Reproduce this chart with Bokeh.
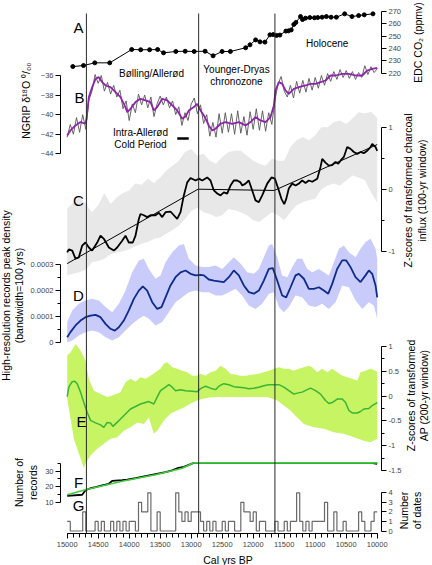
import math
from bokeh.plotting import figure
from bokeh.models import (Range1d, LinearAxis, FixedTicker, NumeralTickFormatter,
                          Label, GridBox)
from bokeh.core.properties import value
from bokeh.embed import file_html
from bokeh.resources import INLINE

# ------------------------------------------------------------------ data
boundary_age = [14690, 12880, 11650]

# A  EDC CO2
co2_age = [14909, 14737, 14555, 14314, 13960, 13815, 13671, 13542, 13446, 13248,
           13097, 12952, 12776, 12647, 12502, 12368, 12122, 12052, 11961, 11891,
           11811, 11730, 11677, 11623, 11570, 11473, 11430, 11387, 11345, 11312,
           11237, 11205, 11157, 11087, 11012, 10959, 10889, 10820, 10744, 10659,
           10525, 10407, 10300, 10209, 10069]
co2_ppmv = [225.4, 226.2, 228.4, 228.4, 239.2, 239.0, 239.0, 239.2, 236.5, 237.6,
            237.8, 237.6, 237.8, 234.1, 237.6, 237.6, 240.6, 243.0, 247.0, 245.4,
            245.2, 251.1, 251.3, 250.6, 250.9, 254.1, 254.3, 255.1, 259.5, 261.1,
            265.9, 263.5, 264.6, 265.1, 264.9, 265.1, 265.4, 265.9, 265.4, 265.4,
            268.1, 265.9, 266.7, 267.3, 268.1]

# B  NGRIP d18O (raw, 50-yr steps) and smoothed curve
ngrip_raw_age = list(range(15000, 9999, -50))
ngrip_raw = [-42.3, -41.0, -42.0, -40.3, -41.8, -40.0, -41.5, -38.5, -37.6, -35.9,
             -36.8, -36.0, -37.6, -36.7, -37.9, -37.0, -38.2, -37.5, -39.4, -38.6,
             -40.6, -38.9, -39.8, -37.9, -39.0, -38.0, -39.3, -38.2, -40.2, -38.9,
             -38.1, -39.0, -38.2, -39.3, -38.6, -40.0, -39.2, -41.1, -39.8, -40.6,
             -38.9, -38.3, -39.9, -39.0, -40.9, -40.0, -42.2, -40.8, -42.3, -39.9,
             -41.9, -39.8, -41.8, -39.9, -42.0, -39.6, -41.9, -40.2, -42.1, -39.7,
             -41.5, -39.4, -41.6, -39.6, -41.7, -39.8, -41.0, -38.5, -36.9, -36.1,
             -37.6, -38.2, -37.0, -38.3, -36.6, -37.8, -36.5, -37.7, -36.3, -37.5,
             -36.2, -37.3, -36.0, -37.0, -35.8, -36.6, -35.6, -36.4, -35.4, -36.2,
             -35.5, -36.3, -35.6, -36.4, -35.7, -36.2, -35.0, -35.9, -35.1, -35.7,
             -35.3]
ngrip_smooth_age = [15000, 14947, 14866, 14785, 14705, 14688, 14651, 14597, 14543, 14490,
                    14436, 14382, 14302, 14221, 14140, 14060, 14032, 13979, 13898, 13818,
                    13737, 13656, 13603, 13548, 13468, 13387, 13306, 13226, 13145, 13091,
                    13038, 12958, 12903, 12850, 12796, 12716, 12661, 12608, 12527, 12447,
                    12339, 12232, 12124, 12043, 11963, 11882, 11801, 11721, 11667, 11640,
                    11587, 11532, 11479, 11426, 11345, 11264, 11156, 11076, 10995, 10914,
                    10834, 10753, 10672, 10564, 10458, 10350, 10242, 10161, 10080, 10000]
ngrip_smooth = [-42.12, -41.61, -41.10, -40.76, -40.93, -40.42, -38.21, -37.19, -36.34, -36.17,
                -36.68, -37.02, -37.19, -37.70, -38.21, -39.23, -39.74, -39.40, -38.72, -38.38,
                -38.55, -38.72, -39.57, -39.23, -38.38, -38.55, -39.06, -39.57, -40.42, -40.18,
                -39.57, -39.23, -38.89, -39.57, -40.08, -41.10, -41.61, -41.44, -40.93, -40.76,
                -40.93, -40.76, -41.10, -40.76, -40.25, -40.59, -40.76, -40.25, -39.06, -37.53,
                -36.68, -36.85, -37.53, -37.87, -37.36, -37.19, -37.02, -36.85, -36.85, -36.68,
                -36.51, -36.00, -36.00, -35.83, -35.83, -36.00, -36.00, -35.49, -35.32, -35.22]
iacp_age = [13225, 13040]

# C  charcoal influx z-scores
charcoal_age = [15000, 14974, 14919, 14866, 14813, 14758, 14705, 14651, 14597, 14516,
                14463, 14409, 14328, 14248, 14194, 14113, 14060, 14006, 13942, 13898,
                13845, 13818, 13764, 13710, 13656, 13576, 13522, 13468, 13414, 13334,
                13280, 13226, 13172, 13119, 13064, 13011, 12930, 12877, 12822, 12742,
                12689, 12635, 12580, 12527, 12474, 12419, 12366, 12313, 12258, 12205,
                12177, 12124, 12071, 12016, 11963, 11909, 11855, 11774, 11705, 11651,
                11597, 11543, 11500, 11468, 11426, 11371, 11317, 11264, 11209, 11156,
                11103, 11048, 10967, 10914, 10887, 10834, 10780, 10726, 10672, 10629,
                10592, 10538, 10484, 10430, 10377, 10322, 10269, 10216, 10161, 10108,
                10080, 10027, 10000]
charcoal_z = [-1.02, -0.97, -0.99, -1.12, -1.10, -0.91, -0.86, -0.94, -0.99, -0.86,
              -0.75, -0.80, -0.94, -0.99, -0.94, -0.83, -0.75, -0.86, -0.86, -0.75,
              -0.48, -0.40, -0.42, -0.45, -0.42, -0.42, -0.38, -0.45, -0.37, -0.36,
              -0.42, -0.48, -0.37, -0.10, 0.11, 0.18, 0.14, 0.17, 0.14, 0.19,
              0.14, -0.02, -0.07, -0.10, -0.05, -0.07, 0.06, 0.14, 0.14, 0.11,
              0.06, 0.09, 0.14, -0.02, -0.18, -0.21, -0.10, 0.09, 0.19, 0.17,
              0.01, -0.16, -0.24, -0.16, 0.01, 0.09, 0.06, 0.09, 0.14, 0.10,
              0.14, 0.12, 0.17, 0.36, 0.49, 0.43, 0.38, 0.39, 0.44, 0.41,
              0.46, 0.52, 0.68, 0.65, 0.60, 0.57, 0.60, 0.58, 0.62, 0.68,
              0.73, 0.68, 0.62]
charcoal_trend_age = [15000, 12890, 11660, 10000]
charcoal_trend_z = [-1.20, 0.00, -0.02, 0.72]
charcoal_band_age = list(range(15000, 9999, -100))
charcoal_band_hi = [-0.31, -0.21, -0.13, -0.24, -0.37, -0.26, -0.06, -0.24, -0.13, -0.06,
                    -0.02, 0.09, 0.07, 0.17, 0.10, 0.19, 0.30, 0.38, 0.46, 0.60,
                    0.65, 0.54, 0.57, 0.46, 0.41, 0.52, 0.60, 0.62, 0.62, 0.54,
                    0.46, 0.41, 0.38, 0.49, 0.46, 0.46, 0.68, 0.79, 0.84, 0.79,
                    0.87, 1.00, 1.00, 1.08, 1.11, 1.05, 1.14, 1.24, 1.22, 1.25, 1.15]
charcoal_band_lo = [-1.39, -1.36, -1.34, -1.30, -1.18, -1.16, -1.12, -1.05, -1.02, -1.00,
                    -0.97, -0.92, -0.88, -0.85, -0.80, -0.78, -0.72, -0.66, -0.59, -0.48,
                    -0.35, -0.30, -0.37, -0.40, -0.45, -0.42, -0.32, -0.34, -0.37, -0.42,
                    -0.50, -0.53, -0.45, -0.37, -0.42, -0.50, -0.37, -0.26, -0.21, -0.18,
                    -0.15, 0.00, 0.06, 0.09, 0.06, 0.14, 0.22, 0.19, 0.15, -0.05, -0.22]

# D  high-resolution records peak density (values in units of 1e-4)
density_age = [15000, 14947, 14866, 14785, 14705, 14624, 14543, 14463, 14382, 14302,
               14232, 14167, 14087, 14006, 13925, 13845, 13780, 13710, 13629, 13548,
               13479, 13414, 13334, 13253, 13172, 13091, 13011, 12930, 12850, 12796,
               12716, 12635, 12554, 12474, 12393, 12313, 12232, 12151, 12071, 11990,
               11909, 11829, 11748, 11684, 11613, 11533, 11468, 11398, 11317, 11264,
               11183, 11103, 11022, 10941, 10861, 10790, 10726, 10646, 10565, 10500,
               10430, 10350, 10269, 10189, 10135, 10081, 10027, 10000]
density_e4 = [0.19, 0.39, 0.65, 0.84, 0.97, 1.03, 1.06, 0.97, 0.71, 0.52,
              0.45, 0.58, 0.84, 1.23, 1.68, 2.00, 2.16, 2.00, 1.55, 1.29,
              1.36, 1.74, 2.20, 2.52, 2.71, 2.78, 2.65, 2.59, 2.61, 2.59,
              2.43, 2.39, 2.36, 2.33, 2.52, 2.78, 2.59, 2.20, 1.94, 1.88,
              2.00, 2.39, 2.84, 2.87, 2.39, 1.81, 1.74, 2.13, 2.59, 2.65,
              2.46, 2.07, 2.07, 2.13, 2.00, 1.88, 2.26, 2.84, 3.17, 3.17,
              2.91, 2.52, 2.33, 2.59, 2.78, 2.65, 2.20, 1.74]
density_hi_age = [15000, 14919, 14813, 14705, 14597, 14490, 14382, 14274, 14167, 14060,
                  13952, 13845, 13764, 13683, 13576, 13495, 13414, 13306, 13199, 13119,
                  13038, 12930, 12823, 12716, 12607, 12500, 12393, 12313, 12204, 12097,
                  11990, 11909, 11829, 11748, 11693, 11613, 11533, 11451, 11371, 11290,
                  11210, 11129, 11048, 10941, 10861, 10780, 10699, 10618, 10538, 10457,
                  10349, 10269, 10189, 10107, 10027, 10000]
density_hi_e4 = [0.78, 1.23, 1.49, 1.62, 1.68, 1.62, 1.36, 1.16, 1.49, 2.00,
                 2.71, 3.17, 3.23, 2.84, 2.46, 2.59, 3.10, 3.49, 3.75, 3.81,
                 3.23, 2.97, 2.91, 2.91, 2.97, 2.84, 3.10, 3.29, 3.04, 2.71,
                 2.65, 2.84, 3.29, 3.75, 3.81, 3.29, 2.59, 2.52, 2.91, 3.23,
                 3.23, 2.84, 2.71, 2.84, 2.71, 2.59, 3.10, 3.62, 3.75, 3.49,
                 3.29, 3.62, 3.88, 4.01, 3.62, 3.23]
density_lo_age = [15000, 14919, 14813, 14705, 14597, 14490, 14382, 14274, 14167, 14060,
                  13952, 13845, 13764, 13683, 13576, 13468, 13361, 13253, 13145, 13038,
                  12930, 12823, 12716, 12607, 12500, 12393, 12285, 12177, 12071, 11963,
                  11855, 11748, 11667, 11586, 11506, 11425, 11317, 11210, 11103, 10995,
                  10887, 10780, 10672, 10564, 10457, 10349, 10242, 10135, 10054, 10000]
density_lo_e4 = [0.00, 0.07, 0.26, 0.39, 0.45, 0.39, 0.19, 0.07, 0.19, 0.45,
                 0.71, 0.91, 1.03, 0.91, 0.65, 0.78, 1.16, 1.55, 1.74, 1.94,
                 2.00, 1.94, 1.94, 1.81, 1.81, 1.94, 2.07, 1.81, 1.42, 1.29,
                 1.49, 1.88, 1.94, 1.36, 1.16, 1.36, 1.81, 1.74, 1.42, 1.36,
                 1.49, 1.29, 1.55, 2.20, 2.13, 1.62, 1.29, 1.55, 1.42, 0.91]

# E  arboreal pollen z-scores
ap_age = [15000, 14974, 14919, 14877, 14839, 14785, 14732, 14677, 14624, 14543,
          14463, 14409, 14355, 14302, 14264, 14221, 14140, 14060, 13979, 13898,
          13818, 13737, 13683, 13603, 13549, 13495, 13414, 13361, 13306, 13253,
          13172, 13091, 12984, 12903, 12850, 12769, 12689, 12607, 12554, 12474,
          12393, 12313, 12232, 12151, 12071, 11990, 11909, 11829, 11748, 11667,
          11586, 11506, 11425, 11345, 11290, 11210, 11129, 11076, 10995, 10914,
          10834, 10780, 10726, 10646, 10564, 10511, 10457, 10403, 10322, 10269,
          10216, 10135, 10081, 10027, 10000]
ap_z = [-0.01, 0.18, 0.29, 0.30, 0.25, 0.08, -0.13, -0.33, -0.49, -0.54,
        -0.58, -0.63, -0.53, -0.54, -0.61, -0.56, -0.46, -0.36, -0.26, -0.21,
        -0.16, -0.13, -0.11, -0.16, -0.02, 0.11, 0.18, 0.23, 0.18, 0.11,
        0.13, 0.11, 0.10, 0.09, 0.15, 0.20, 0.16, 0.13, 0.20, 0.25,
        0.23, 0.19, 0.18, 0.17, 0.15, 0.16, 0.18, 0.21, 0.23, 0.23,
        0.23, 0.18, 0.11, 0.04, 0.06, 0.08, 0.13, 0.16, 0.11, 0.04,
        -0.09, -0.15, -0.13, -0.06, -0.06, -0.13, -0.29, -0.34, -0.34, -0.31,
        -0.26, -0.25, -0.19, -0.15, -0.13]
ap_hi_age = [15000, 14947, 14866, 14785, 14705, 14651, 14570, 14463, 14355, 14248,
             14140, 14060, 13979, 13898, 13818, 13737, 13656, 13576, 13495, 13441,
             13387, 13306, 13226, 13145, 13065, 12984, 12903, 12850, 12769, 12689,
             12607, 12527, 12446, 12366, 12286, 12205, 12124, 12017, 11909, 11829,
             11748, 11667, 11586, 11506, 11425, 11345, 11264, 11183, 11103, 11049,
             10968, 10888, 10807, 10726, 10646, 10564, 10484, 10403, 10322, 10269,
             10189, 10108, 10027, 10000]
ap_hi_z = [0.82, 0.88, 1.05, 0.92, 0.72, 0.35, 0.11, 0.04, -0.02, 0.02,
           0.08, 0.28, 0.35, 0.29, 0.38, 0.35, 0.41, 0.48, 0.55, 0.65,
           0.68, 0.58, 0.55, 0.51, 0.48, 0.41, 0.41, 0.45, 0.41, 0.48,
           0.51, 0.61, 0.55, 0.45, 0.43, 0.41, 0.41, 0.43, 0.45, 0.48,
           0.51, 0.55, 0.58, 0.55, 0.55, 0.51, 0.55, 0.58, 0.61, 0.58,
           0.48, 0.55, 0.48, 0.55, 0.48, 0.41, 0.38, 0.35, 0.31, 0.48,
           0.51, 0.55, 0.51, 0.48]
ap_lo_age = [15000, 14893, 14732, 14705, 14624, 14516, 14409, 14302, 14193, 14087,
             13979, 13871, 13764, 13683, 13603, 13548, 13441, 13334, 13226, 13119,
             13011, 12903, 12796, 12635, 12419, 12204, 11989, 11774, 11613, 11506,
             11398, 11290, 11183, 11022, 10860, 10699, 10538, 10376, 10215, 10107,
             10000]
ap_lo_z = [-0.05, -0.86, -1.45, -1.36, -1.20, -1.06, -0.96, -0.86, -0.83, -0.70,
           -0.63, -0.53, -0.56, -0.43, -0.76, -0.70, -0.49, -0.35, -0.29, -0.23,
           -0.15, -0.09, -0.05, -0.02, -0.02, -0.02, -0.02, -0.02, -0.09, -0.19,
           -0.29, -0.43, -0.56, -0.63, -0.66, -0.73, -0.76, -0.83, -0.90, -0.93,
           -0.86]

# F  number of records
records_fit_age = [15000, 14705, 14113, 13576, 13145, 12958, 10000]
records_fit_n = [14.8, 18.0, 23.5, 27.7, 31.9, 35.4, 35.4]
records_age = [15000, 14758, 14705, 14624, 14543, 14436, 14328, 14275, 14113, 14032,
               13898, 13737, 13576, 13414, 13307, 13226, 13119, 12958, 10100, 10000]
records_n = [14.1, 14.8, 17.7, 19.0, 19.7, 20.8, 21.9, 23.8, 24.2, 24.6,
             25.5, 26.8, 28.1, 29.4, 30.5, 31.9, 32.8, 35.4, 35.4, 34.8]

# G  number of dates per 50-yr bin (bin start ages 15000 ... 10050)
dates_bin_start = list(range(15000, 10000, -50))
dates_count = [1, 0, 0, 0, 0, 2, 0, 0, 0, 1,
               0, 1, 0, 0, 1, 0, 1, 0, 1, 0,
               1, 1, 0, 3, 2, 2, 4, 0, 0, 2,
               0, 0, 0, 0, 0, 4, 2, 1, 2, 1,
               2, 2, 2, 1, 0, 1, 0, 1, 0, 0,
               1, 0, 1, 1, 0, 0, 3, 2, 2, 1,
               2, 0, 1, 1, 0, 0, 0, 1, 0, 0,
               1, 0, 1, 1, 4, 1, 0, 1, 0, 1,
               1, 1, 1, 3, 0, 0, 2, 0, 0, 1,
               0, 0, 0, 0, 2, 1, 0, 0, 1, 2]

# tick labels
x_major = list(range(15000, 9999, -500))
x_minor = list(range(15000, 9999, -100))
co2_ticks = [220, 230, 240, 250, 260, 270]
ngrip_ticks = [-44, -42, -40, -38, -36]
charcoal_ticks = [-1, 0, 1]
charcoal_minor = [-0.5, 0.5]
density_ticks = [0, 0.0001, 0.0002, 0.0003]
density_minor = [0.00005, 0.00015, 0.00025]
ap_ticks = [-1.5, -1, -0.5, 0, 0.5, 1]
ap_minor = [-1.25, -0.75, -0.25, 0.25, 0.75]
records_ticks = [10, 20, 30]
records_minor = [15, 25, 35]
dates_ticks = [0, 1, 2, 3, 4]

# axis titles
title_text = ["EDC CO₂ (ppmv)", "NGRIP δ¹⁸O ⁰/₀₀",
              "Z-scores of transformed charcoal\ninflux (100-yr window)",
              "High-resolution records peak density\n(bandwidth=100 yrs)",
              "Z-scores of transformed\nAP (200-yr window)",
              "Number of\nrecords", "Number\nof dates"]

# ------------------------------------------------------------------ layout
W, H = 432, 565
REF_TOP, REF_BOT = 9, 533          # canvas rows at the frame top / bottom
REF_LEFT, REF_RIGHT = 60, 381      # canvas columns at the frame left / right
BL, BR, BT, BB = REF_LEFT, W - REF_RIGHT, REF_TOP, H - REF_BOT
X_START, X_END = 15108, 9931
FONT = "Liberation Sans"


def cal_range(v1, r1, v2, r2):
    k = (v1 - v2) / (r1 - r2)
    return Range1d(start=v1 + (REF_BOT - r1) * k, end=v1 + (REF_TOP - r1) * k)


def at_row(rng, r):
    return rng.start + (REF_BOT - r) * (rng.end - rng.start) / (REF_BOT - REF_TOP)


def at_col(c):
    return X_START + (c - REF_LEFT) * (X_END - X_START) / (REF_RIGHT - REF_LEFT)


rA = cal_range(270, 11, 220, 72.7)
rB = cal_range(-36, 75, -44, 153.3)
rC = cal_range(1, 126.7, -1, 250.7)
rD = cal_range(3e-4, 264.3, 0, 341.7)
rE = cal_range(1, 346, -1.5, 470)
rF = cal_range(30, 470.7, 10, 501.7)
rG = cal_range(4, 492.3, 0, 530.5)

xr = Range1d(X_START, X_END)


def make_fig(primary, extra, xrange=xr, borders=(BL, BR, BT, BB)):
    p = figure(width=W, height=H, x_range=xrange, y_range=primary,
               output_backend="svg", toolbar_location=None,
               x_axis_location=None, y_axis_location=None,
               min_border_left=borders[0], min_border_right=borders[1],
               min_border_top=borders[2], min_border_bottom=borders[3],
               background_fill_color=None, border_fill_color=None,
               outline_line_color=None)
    p.extra_y_ranges = extra
    for g in list(p.center):
        g.visible = False
    return p


def style_axis(ax):
    ax.axis_line_color = "black"
    ax.major_tick_line_color = "black"
    ax.minor_tick_line_color = "black"
    ax.major_tick_in = 0
    ax.major_tick_out = 5
    ax.minor_tick_in = 0
    ax.minor_tick_out = 3
    ax.major_label_text_font = FONT
    ax.major_label_text_font_size = "7.5px"
    ax.major_label_standoff = 2


def add_axis(p, side, rname, bounds, major, minor=None, fmt=None):
    kw = dict(ticker=FixedTicker(ticks=major, minor_ticks=minor or []))
    if fmt is not None:
        kw["formatter"] = fmt
    if rname is not None:
        kw["y_range_name"] = rname
    ax = LinearAxis(bounds=bounds, **kw)
    style_axis(ax)
    p.add_layout(ax, side)
    return ax


def text(p, s, c, r, rng, rname, size):
    p.add_layout(Label(x=at_col(c), y=at_row(rng, r), y_range_name=rname, text=s,
                       text_font=FONT, text_font_size=size, text_align="center",
                       text_baseline="middle", text_line_height=1.05,
                       text_color="black"))


# ---------------- figure 0 : axis titles (frame = whole canvas, canvas pixel units)
f0 = make_fig(Range1d(H, 0), {}, xrange=Range1d(0, W), borders=(0, 0, 0, 0))
title_col = [417.5, 25, 414.5, 12, 417, 25.5, 410]
title_row = [42, 100, 190, 295, 395, 482, 510]
f0.text(x=title_col, y=title_row, text=title_text, angle=math.pi / 2,
        text_font=value(FONT), text_font_size="10.5px", text_align="center",
        text_baseline="middle", text_line_height=1.15, text_color="black")
f0.text(x=[227.5], y=[559], text=["Cal yrs BP"], text_font=value(FONT),
        text_font_size="10.5px", text_align="center", text_baseline="middle",
        text_color="black")

# ---------------- figure 1 : A (right) + B (left)
f1 = make_fig(rB, {"A": rA})
f1.line(ngrip_raw_age, ngrip_raw, line_color="#555555", line_width=0.9)
f1.line(ngrip_smooth_age, ngrip_smooth, line_color="#8e24aa", line_width=1.8)
f1.line(co2_age, co2_ppmv, y_range_name="A", line_color="black", line_width=1)
f1.scatter(co2_age, co2_ppmv, y_range_name="A", size=4, color="black")
f1.segment(x0=[iacp_age[0]], x1=[iacp_age[1]], y0=[at_row(rB, 138)], y1=[at_row(rB, 138)],
           line_color="black", line_width=2.5)
add_axis(f1, "left", None, (-44, -36), ngrip_ticks)
add_axis(f1, "right", "A", (220, 270), co2_ticks)
text(f1, "A", 78, 27, rB, "default", "15px")
text(f1, "B", 79, 97, rB, "default", "15px")
text(f1, "Bølling/Allerød", 151, 72.7, rB, "default", "10px")
text(f1, "Younger-Dryas\nchronozone", 236, 75, rB, "default", "10px")
text(f1, "Holocene", 326.7, 43, rB, "default", "10px")
text(f1, "Intra-Allerød\nCold Period", 140, 138, rB, "default", "10px")

# ---------------- figure 2 : C (right) + D (left)
f2 = make_fig(rD, {"C": rC})
f2.patch(charcoal_band_age + charcoal_band_age[::-1], charcoal_band_hi + charcoal_band_lo[::-1],
         y_range_name="C", fill_color="#e8e8e8", line_color=None)
density_hi = [v * 1e-4 for v in density_hi_e4]
density_lo = [v * 1e-4 for v in density_lo_e4]
density = [v * 1e-4 for v in density_e4]
f2.patch(density_hi_age + density_lo_age[::-1], density_hi + density_lo[::-1],
         fill_color="#c9cbfb", line_color=None)
f2.line(charcoal_trend_age, charcoal_trend_z, y_range_name="C", line_color="black", line_width=1)
f2.line(charcoal_age, charcoal_z, y_range_name="C", line_color="black", line_width=1.8)
f2.line(density_age, density, line_color="#0d2b8c", line_width=1.8)
add_axis(f2, "left", None, (0, 0.0003), density_ticks, density_minor,
         NumeralTickFormatter(format="0.[0000]"))
add_axis(f2, "right", "C", (-1, 1), charcoal_ticks, charcoal_minor,
         NumeralTickFormatter(format="0.[0]"))
text(f2, "C", 78, 200, rD, "default", "15px")
text(f2, "D", 78, 295, rD, "default", "15px")

# ---------------- figure 3 : E (right) + F (left)
f3 = make_fig(rF, {"E": rE})
f3.patch(ap_hi_age + ap_lo_age[::-1], ap_hi_z + ap_lo_z[::-1], y_range_name="E",
         fill_color="#c6f463", line_color=None)
f3.line(ap_age, ap_z, y_range_name="E", line_color="#38b538", line_width=1.5)
f3.line(records_age, records_n, line_color="black", line_width=1.8)
f3.line(records_fit_age, records_fit_n, line_color="#3ccf3c", line_width=1.6)
add_axis(f3, "left", None, (10, 35), records_ticks, records_minor)
add_axis(f3, "right", "E", (-1.5, 1), ap_ticks, ap_minor, NumeralTickFormatter(format="0.[0]"))
text(f3, "E", 81, 421, rF, "default", "15px")
text(f3, "F", 78, 482, rF, "default", "15px")

# ---------------- figure 4 : G (right) + time axis + boundaries
f4 = make_fig(rG, {})
f4.step(dates_bin_start + [10000], dates_count + [dates_count[-1]], mode="after",
        line_color="#6a6a6a", line_width=1.2)
n_b = len(boundary_age)
f4.segment(x0=boundary_age, x1=boundary_age, y0=[at_row(rG, REF_BOT)] * n_b,
           y1=[at_row(rG, 13)] * n_b, line_color="#2a2a2a", line_width=1)
xa = LinearAxis(bounds=(10000, 15000), ticker=FixedTicker(ticks=x_major, minor_ticks=x_minor))
style_axis(xa)
xa.minor_tick_out = 4
xa.major_label_standoff = 3
f4.add_layout(xa, "below")
add_axis(f4, "right", None, (0, 4), dates_ticks)
text(f4, "G", 78, 505, rG, "default", "15px")

panels = GridBox(children=[(f1, 0, 0), (f2, 0, 0), (f3, 0, 0), (f4, 0, 0)])
layout = GridBox(children=[(f0, 0, 0), (panels, 0, 0)])

with open("out.html", "w") as fh:
    fh.write(file_html(layout, INLINE))
